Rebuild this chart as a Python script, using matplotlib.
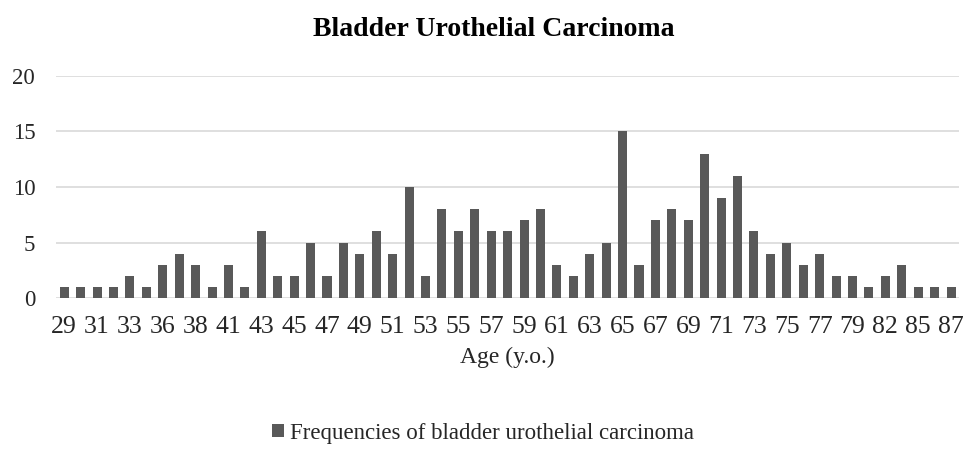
import matplotlib
matplotlib.use("Agg")
import matplotlib.pyplot as plt
import numpy as np

# data
ages = [29, 30, 31, 32, 33, 34, 36, 37, 38, 39, 41, 42, 43, 44, 45, 46, 47, 48,
        49, 50, 51, 52, 53, 54, 55, 56, 57, 58, 59, 60, 61, 62, 63, 64, 65, 66,
        67, 68, 69, 70, 71, 72, 73, 74, 75, 76, 77, 78, 79, 80, 82, 83, 85, 86, 87]
freqs = [1, 1, 1, 1, 2, 1, 3, 4, 3, 1, 3, 1, 6, 2, 2, 5, 2, 5, 4, 6, 4, 10, 2, 8,
         6, 8, 6, 6, 7, 8, 3, 2, 4, 5, 15, 3, 7, 8, 7, 13, 9, 11, 6, 4, 5, 3, 4,
         2, 2, 1, 2, 3, 1, 1, 1]
yticks = [0, 5, 10, 15, 20]

plt.rcParams['font.family'] = ['Liberation Serif', 'DejaVu Serif']
txt = '#262626'

fig = plt.figure(figsize=(9.66, 4.55), dpi=100)
ax = fig.add_axes([0.058, 0.345, 0.935, 0.488])

x = np.arange(len(ages))
ax.bar(x, freqs, width=0.55, color='#595959', zorder=3,
       label='Frequencies of bladder urothelial carcinoma')

ax.set_xlim(-0.5, len(ages) - 0.5)
ax.set_ylim(0, 20)
ax.set_yticks(yticks)
ax.set_xticks(x[::2])
ax.set_xticklabels([str(a) for a in ages[::2]])
ax.tick_params(axis='both', length=0, colors=txt)
ax.tick_params(axis='x', labelsize=18.5, pad=13)
ax.tick_params(axis='y', labelsize=16.5, pad=15)
ax.grid(axis='y', color='#d9d9d9', linewidth=1.2, zorder=0)
for s in ax.spines.values():
    s.set_visible(False)

# chart title, centred on the chart area like the source
fig.text(0.511, 0.935, 'Bladder Urothelial Carcinoma', fontsize=20,
         fontweight='bold', ha='center', va='center')
ax.set_xlabel('Age (y.o.)', fontsize=17, labelpad=6, color=txt)

fig.legend(loc='center', bbox_to_anchor=(0.5, 0.048), frameon=False,
           fontsize=16.5, handlelength=0.55, handleheight=0.55,
           handletextpad=0.25, labelcolor=txt)

fig.savefig('out.png', dpi=100)
